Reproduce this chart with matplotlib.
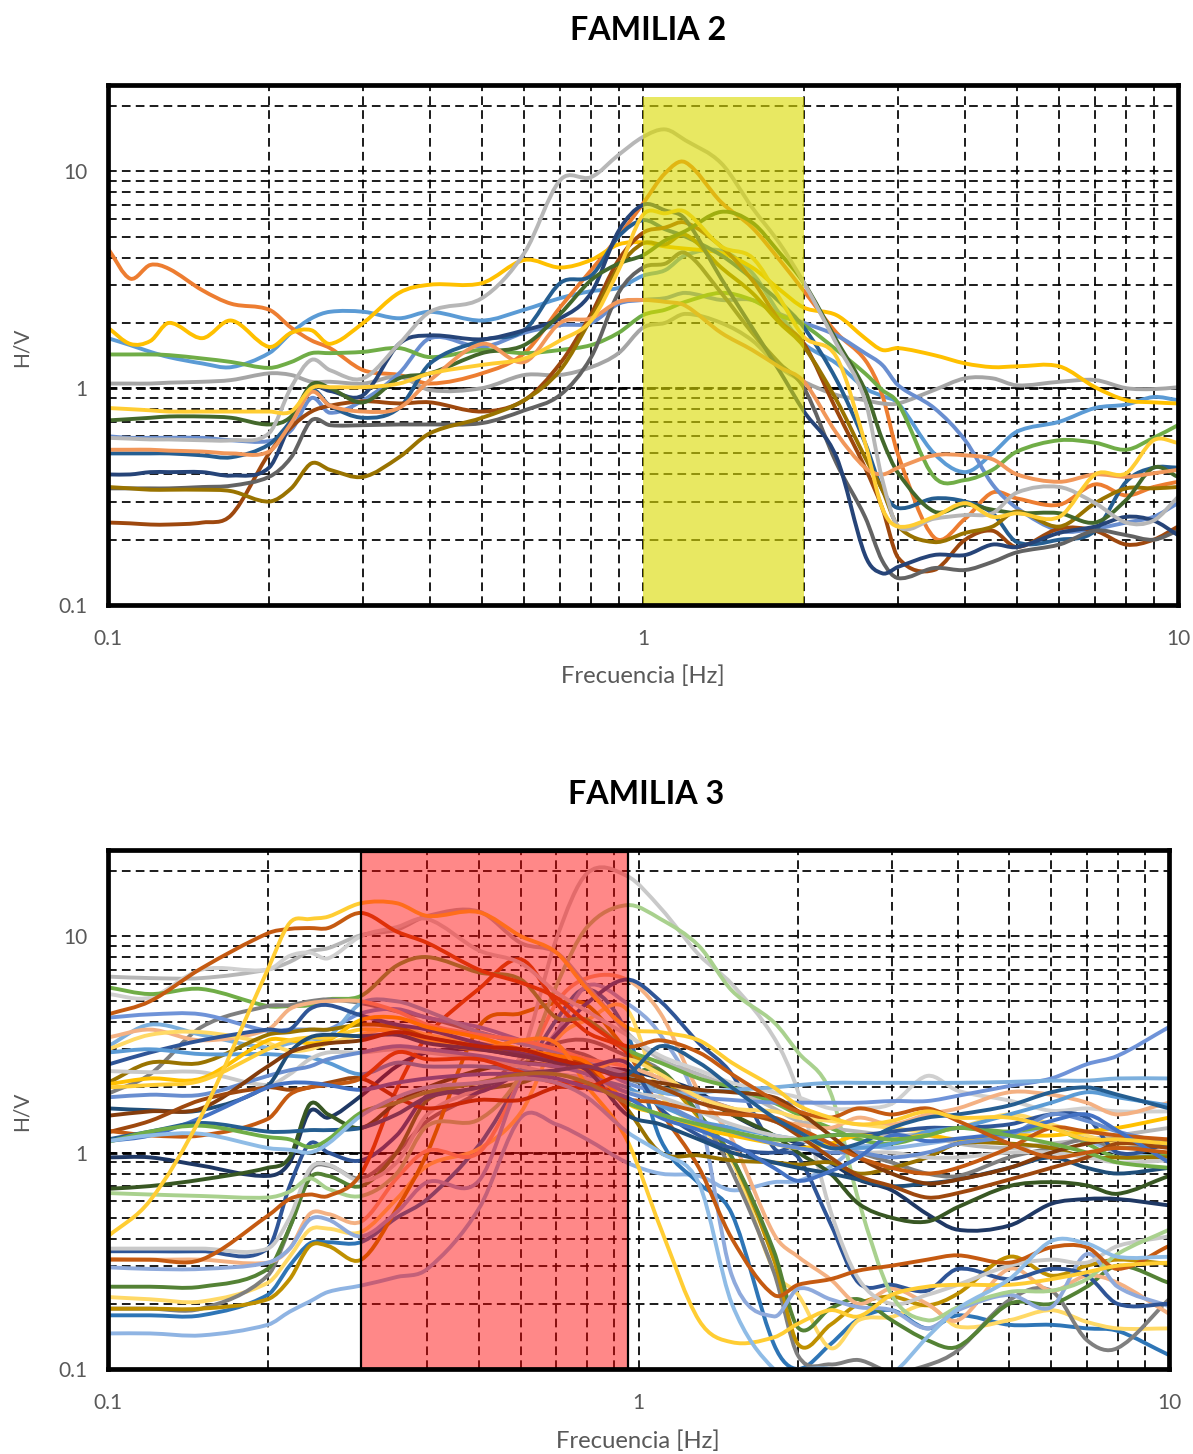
import matplotlib
matplotlib.use("Agg")
import numpy as np
import matplotlib.pyplot as plt
from matplotlib.patches import Rectangle, PathPatch
from matplotlib.path import Path
from matplotlib.ticker import FixedLocator, FixedFormatter, NullFormatter

plt.rcParams['font.family'] = ['Lato', 'DejaVu Sans']

x_ticks = [0.1, 1, 10]
x_tick_labels = ['0.1', '1', '10']
y_ticks = [0.1, 1, 10]
y_tick_labels = ['0.1', '1', '10']
minor_ticks = [0.2, 0.3, 0.4, 0.5, 0.6, 0.7, 0.8, 0.9, 2, 3, 4, 5, 6, 7, 8, 9, 20]

# ---- FAMILIA 2 ----
f2_freq = [0.1, 0.11, 0.12, 0.13, 0.15, 0.17, 0.2, 0.22, 0.24, 0.26, 0.3, 0.35, 0.4, 0.5, 0.6, 0.7, 0.8, 0.9, 1,
           1.1, 1.2, 1.4, 1.6, 1.8, 2, 2.3, 2.6, 2.8, 3, 3.5, 4, 4.5, 5, 6, 7, 8, 9, 10]
f2_blue = [1.7, 1.58, 1.47, 1.39, 1.3, 1.25, 1.45, 1.8, 2.1, 2.25, 2.25, 2.1, 2.25, 2.05, 2.3, 2.6, 2.8, 2.9, 3.3,
           3.5, 4.1, 4.3, 3.4, 2.2, 1.6, 1.3, 1.0, 0.92, 0.85, 0.5, 0.41, 0.5, 0.63, 0.7, 0.81, 0.84, 0.91, 0.88]
f2_orange = [4.4, 3.2, 3.7, 3.55, 2.83, 2.45, 2.3, 1.9, 1.66, 1.53, 1.21, 1.15, 1.05, 1.17, 1.45, 2.36, 3.5, 5, 7.1,
             9.8, 11, 7.2, 5.5, 3.9, 2.8, 1.8, 1.35, 0.93, 0.49, 0.205, 0.25, 0.33, 0.31, 0.29, 0.36, 0.32, 0.35, 0.37]
f2_gray = [1.05, 1.05, 1.05, 1.06, 1.07, 1.09, 1.17, 1.15, 1.07, 1.07, 1.05, 1.13, 0.98, 1.0, 1.15, 1.15, 1.25, 1.45, 1.9,
           2.0, 2.2, 2.0, 1.66, 1.25, 1.07, 0.93, 0.88, 0.85, 0.85, 0.98, 1.11, 1.11, 1.03, 1.07, 1.09, 1.0, 0.99, 1.01]
f2_gold = [1.9, 1.6, 1.65, 2.0, 1.7, 2.05, 1.55, 1.8, 1.85, 1.6, 2.0, 2.75, 3.0, 3.05, 3.9, 3.6, 3.9, 4.6, 4.7,
           4.5, 4.4, 4.2, 3.6, 2.85, 2.35, 2.17, 1.7, 1.5, 1.53, 1.42, 1.3, 1.25, 1.26, 1.26, 1.01, 0.88, 0.86, 0.85]
f2_periwinkle = [0.6, 0.59, 0.59, 0.59, 0.59, 0.575, 0.57, 0.64, 0.9, 0.77, 0.88, 1.17, 1.7, 1.55, 1.8, 1.95, 2.0, 2.45, 2.55,
                 2.6, 2.75, 2.55, 2.55, 2.2, 2.0, 1.75, 1.45, 1.28, 1.03, 0.81, 0.575, 0.36, 0.28, 0.22, 0.225, 0.24, 0.255, 0.295]
f2_green = [1.43, 1.43, 1.43, 1.42, 1.37, 1.32, 1.24, 1.32, 1.45, 1.45, 1.47, 1.53, 1.39, 1.5, 1.45, 1.5, 1.58, 1.8, 2.17,
            2.3, 2.5, 2.75, 2.55, 2.17, 1.95, 1.5, 1.17, 0.98, 0.85, 0.39, 0.377, 0.42, 0.51, 0.575, 0.56, 0.52, 0.59, 0.675]
f2_teal = [0.5, 0.5, 0.5, 0.5, 0.49, 0.48, 0.55, 0.71, 0.98, 0.83, 0.73, 0.81, 1.3, 1.66, 1.85, 3.05, 3.3, 5, 5.95,
           5.4, 5, 4.1, 3.2, 2.5, 1.9, 1.09, 0.56, 0.34, 0.28, 0.31, 0.3, 0.265, 0.195, 0.2, 0.22, 0.37, 0.43, 0.43]
f2_brown = [0.24, 0.238, 0.235, 0.235, 0.24, 0.26, 0.5, 0.66, 0.78, 0.83, 0.87, 0.85, 0.86, 0.78, 0.88, 1.3, 2.2, 3.9, 5.2,
            5.5, 5.8, 4.5, 3.15, 2.05, 1.6, 0.79, 0.43, 0.28, 0.165, 0.145, 0.2, 0.22, 0.185, 0.225, 0.22, 0.19, 0.2, 0.23]
f2_darkgray = [0.345, 0.345, 0.345, 0.345, 0.35, 0.355, 0.39, 0.48, 0.71, 0.675, 0.675, 0.68, 0.68, 0.69, 0.79, 0.93, 1.39, 2.75, 3.6,
               3.75, 4.2, 2.75, 1.8, 1.3, 1.0, 0.45, 0.255, 0.16, 0.133, 0.148, 0.145, 0.158, 0.175, 0.19, 0.22, 0.21, 0.2, 0.22]
f2_olive = [0.35, 0.345, 0.34, 0.34, 0.34, 0.335, 0.3, 0.345, 0.45, 0.42, 0.39, 0.48, 0.62, 0.73, 0.88, 1.21, 2.1, 3.6, 4.65,
            4.6, 5.1, 3.6, 2.75, 2.0, 1.55, 0.88, 0.48, 0.34, 0.23, 0.195, 0.215, 0.23, 0.27, 0.23, 0.295, 0.345, 0.345, 0.35]
f2_navy = [0.4, 0.4, 0.41, 0.41, 0.41, 0.395, 0.43, 0.7, 1.0, 0.97, 0.93, 1.6, 1.75, 1.68, 1.85, 2.1, 2.75, 5.3, 7.0,
           6.6, 6.0, 3.2, 1.9, 1.2, 0.78, 0.48, 0.17, 0.14, 0.15, 0.17, 0.17, 0.19, 0.185, 0.215, 0.23, 0.255, 0.245, 0.21]
f2_darkgreen = [0.71, 0.72, 0.73, 0.74, 0.74, 0.73, 0.68, 0.74, 1.04, 1.0, 0.86, 1.11, 1.17, 1.45, 1.58, 2.2, 3.15, 3.75, 4.1,
                4.8, 5.3, 6.5, 5.8, 4.2, 3.05, 1.66, 0.98, 0.58, 0.405, 0.27, 0.29, 0.275, 0.265, 0.265, 0.24, 0.305, 0.43, 0.39]
f2_salmon = [0.52, 0.52, 0.52, 0.515, 0.51, 0.5, 0.51, 0.69, 0.96, 0.83, 0.78, 0.81, 1.09, 1.6, 1.32, 2.0, 2.1, 2.5, 2.55,
             2.5, 2.4, 1.8, 1.5, 1.25, 1.07, 0.62, 0.43, 0.4, 0.43, 0.49, 0.49, 0.47, 0.4, 0.37, 0.4, 0.39, 0.405, 0.42]
f2_silver = [0.59, 0.585, 0.58, 0.58, 0.575, 0.575, 0.62, 1.01, 1.35, 1.21, 1.11, 1.6, 2.25, 2.6, 4.2, 9.1, 9.4, 11.9, 14.4,
             15.6, 13.9, 10.9, 6.8, 4.65, 3.05, 1.6, 0.88, 0.38, 0.23, 0.25, 0.26, 0.265, 0.33, 0.35, 0.295, 0.24, 0.245, 0.315]
f2_yellow = [0.81, 0.8, 0.79, 0.78, 0.78, 0.78, 0.78, 0.78, 1.0, 1.01, 1.01, 1.05, 1.17, 1.28, 1.37, 1.66, 2.05, 3.5, 6.3,
             6.4, 6.5, 4.5, 4.0, 2.6, 1.72, 1.39, 0.56, 0.28, 0.23, 0.255, 0.295, 0.255, 0.265, 0.255, 0.4, 0.405, 0.575, 0.56]

f2_curves = [f2_blue, f2_orange, f2_gray, f2_gold, f2_periwinkle, f2_green, f2_teal, f2_brown, f2_darkgray,
             f2_olive, f2_navy, f2_darkgreen, f2_salmon, f2_silver, f2_yellow]
f2_colors = ['#5B9BD5', '#ED7D31', '#A5A5A5', '#FFC000', '#698ED0', '#70AD47', '#255E91', '#9E480E', '#636363',
             '#997300', '#264478', '#43682B', '#F1975A', '#B7B7B7', '#FFCD33']
f2_band = [1, 2]
f2_band_top = 22

# ---- FAMILIA 3 ----
f3_freq = [0.1, 0.12, 0.15, 0.2, 0.22, 0.24, 0.26, 0.3,
           0.35, 0.4, 0.5, 0.6, 0.7, 0.8, 0.95,
           1.1, 1.3, 1.5, 1.8, 2, 2.3, 2.6, 3, 3.5, 4, 5, 6, 7, 8, 10]
f3_01 = [.146, .146, .143, .16, .184, .205, .227, .243, .266, .29, .55, 1.45, 1.35, 1.15, .9, .8, .78, .67, .73, .74, .86, 1.06, 1.05, 1.1, 1.15, 1.2, 1.3, 1.15, 1.0, .95]
f3_02 = [.177, .177, .177, .22, .3, .38, .385, .386, .5, .61, 1.08, 2.2, 4.1, 5.7, 3.6, 1.15, .72, .52, .13, .1, .13, .17, .187, .154, .177, .16, .16, .154, .15, .116]
f3_03 = [.215, .21, .205, .25, .33, .44, .445, .43, .61, .87, 1.04, 1.53, 3.3, 4.1, 4.6, 1.86, 1.3, .92, .285, .22, .125, .168, .174, .197, .157, .168, .187, .165, .154, .154]
f3_04 = [.19, .19, .19, .27, .45, .82, .87, .76, 1.0, 1.4, 1.9, 2.7, 3.2, 3.3, 2.8, 2.4, 1.5, .82, .28, .115, .105, .11, .097, .104, .122, .208, .23, .136, .125, .21]
f3_05 = [.19, .19, .19, .21, .26, .37, .37, .32, .55, 1.0, 3.8, 4.4, 4.9, 4.8, 3.0, 2.3, 1.45, .95, .32, .13, .16, .2, .216, .197, .223, .33, .27, .3, .32, .306]
f3_06 = [.24, .24, .24, .29, .45, .76, .78, .7, 1.0, 1.75, 1.95, 2.1, 2.4, 2.5, 2.3, 2.4, 1.5, .95, .35, .155, .19, .21, .168, .136, .127, .2, .2, .24, .3, .25]
f3_07 = [.323, .32, .32, .31, .36, .52, .52, .48, .76, 1.02, 1.0, 2.2, 4.9, 6.4, 6.3, 4.4, 1.9, 1.15, .42, .33, .26, .2, .235, .2, .168, .29, .23, .27, .25, .18]
f3_08 = [.295, .29, .29, .31, .36, .49, .49, .41, .53, .73, .74, 2.2, 3.6, 5.9, 4.9, 3.5, 1.56, .27, .175, .235, .21, .193, .187, .154, .187, .22, .193, .34, .24, .195]
f3_09 = [.35, .35, .35, .36, .7, 1.1, 1.0, .92, 1.2, 1.83, 1.9, 2.4, 3.5, 4.9, 6.3, 5.0, 3.2, 2.3, 1.05, .95, .47, .25, .245, .23, .29, .26, .29, .27, .2, .2]
f3_10 = [.36, .36, .36, .36, .5, .84, .88, .74, .9, 1.5, 2.0, 2.8, 9.7, 19.5, 19, 13.5, 8.2, 6, 3.4, 1.9, .54, .26, .2, .22, .245, .3, .32, .31, .37, .41]
f3_11 = [.65, .64, .63, .62, .66, .76, .68, .63, .8, 1.33, 1.42, 2.3, 5.9, 11, 13.9, 12, 9, 5.6, 4, 2.9, 1.9, .6, .22, .168, .193, .227, .23, .26, .34, .44]
f3_12 = [.32, .32, .32, .51, .61, .64, .63, .8, 1.96, 3.46, 5.7, 7.8, 4.9, 3.6, 2.9, 1.56, .85, .4, .22, .245, .26, .285, .3, .32, .335, .31, .365, .365, .29, .37]
f3_13 = [.95, .95, .87, .78, .9, 1.55, 1.45, 1.83, 2.5, 2.9, 3, 2.8, 2.8, 2.5, 2.4, 2.2, 1.9, 1.5, 1.2, 1.1, .9, .75, .67, .52, .44, .46, .58, .61, .61, .57]
f3_14 = [.68, .7, .75, .85, .95, 1.67, 1.5, 1.3, 1.7, 2, 2.4, 2.6, 2.5, 2.4, 2.3, 2, 1.8, 1.5, 1.2, 1, .8, .58, .5, .48, .56, .7, .73, .705, .645, .78]
f3_15 = [6.5, 6.4, 6.4, 7.0, 7.6, 8.5, 8.8, 10.1, 10.7, 12.4, 13, 9.3, 8.4, 5.9, 3.6, 2.7, 2.3, 2, 1.6, 1.4, 1.3, 1.25, 1.2, 1.2, 1.1, 1.05, 1.1, 1.15, 1.2, 1.3]
f3_16 = [5.4, 5.2, 7, 7, 8.1, 8.4, 7.9, 10, 11, 12, 8.6, 7.5, 5.5, 4.5, 3.5, 2.8, 2.4, 2.1, 1.9, 1.8, 1.6, 1.6, 1.68, 2.26, 1.93, 1.74, 1.56, 1.6, 1.55, 1.55]
f3_17 = [5.8, 5.4, 5.7, 4.75, 4.75, 4.8, 5.1, 5.3, 7.3, 8.0, 6.8, 6.3, 4.2, 4.1, 3, 2.6, 2.2, 2, 1.7, 1.5, 1.3, 1.15, 1.1, 1.2, 1.3, 1.25, 1.3, 1.1, .95, .98]
f3_18 = [1.87, 2.3, 3.8, 4.75, 4.8, 5, 5.1, 4.9, 4.5, 4.2, 3.6, 3.2, 3.0, 2.8, 2.2, 2, 1.8, 1.6, 1.4, 1.25, 1.1, 1, .9, .8, .78, .95, 1.05, 1.15, 1.05, 1.1]
f3_19 = [4.2, 4.35, 4.35, 3.65, 3.7, 3.7, 3.7, 4.4, 4.6, 4.2, 3.8, 3.3, 2.9, 2.6, 2.1, 1.9, 1.8, 1.75, 1.7, 1.7, 1.7, 1.7, 1.73, 1.73, 1.83, 2.03, 2.2, 2.56, 2.8, 3.8]
f3_20 = [3.1, 3.9, 3.5, 3.05, 3.2, 3.35, 3.4, 4.9, 5, 4.5, 3.6, 3.2, 2.9, 2.6, 2.3, 1.9, 1.9, 1.95, 2.0, 2.05, 2.1, 2.1, 2.1, 2.1, 2.1, 2.12, 2.15, 2.15, 2.2, 2.2]
f3_21 = [3.4, 3.7, 3.3, 3.7, 4.6, 4.9, 5, 5, 4.5, 3.9, 3.5, 3.3, 3, 2.7, 2.5, 2.2, 1.8, 1.6, 1.4, 1.35, 1.3, 1.45, 1.35, 1.5, 1.6, 1.9, 1.85, 1.7, 1.5, 1.7]
f3_22 = [3.0, 3.5, 3.6, 3.2, 2.95, 3, 3.2, 3.5, 3.8, 3.5, 3.2, 3, 2.7, 2.4, 2.7, 2.3, 1.8, 1.6, 1.55, 1.45, 1.4, 1.35, 1.3, 1.25, 1.3, 1.5, 1.35, 1.2, 1.1, 1.15]
f3_23 = [2.1, 2.6, 2.6, 3.5, 3.6, 3.7, 3.7, 3.9, 3.8, 3.4, 3.1, 2.9, 2.8, 2.5, 1.6, 1.0, .97, .92, .9, .88, .9, .8, .85, .95, 1.1, 1.1, 1.05, .95, .95, .95]
f3_24 = [2.55, 2.9, 3.3, 3.7, 3.7, 4.6, 4.8, 4.3, 3.9, 3.7, 3.2, 2.9, 2.7, 2.5, 2.6, 1.6, 1.2, 1.05, 1, 1.1, 1.2, 1.2, 1.25, 1.3, 1.3, 1.35, 1.5, 1.45, 1.0, 1.1]
f3_25 = [2.9, 3, 2.85, 2.85, 2.8, 2.75, 2.6, 2.3, 2.6, 2.5, 2.5, 2.4, 2.3, 2.2, 2.0, 1.65, 1.4, 1.3, 1.2, 1.15, 1.1, 1.05, 1.1, 1.25, 1.3, 1.5, 1.7, 1.9, 1.8, 1.65]
f3_26 = [2.38, 2.35, 2.35, 2.05, 2.3, 2.7, 2.9, 2.9, 3, 2.9, 2.7, 2.5, 2.3, 2.2, 1.9, 1.8, 1.55, 1.35, 1.2, 1.15, 1.05, 1, 1, .95, .95, 1.0, 1.0, .95, .9, .92]
f3_27 = [2.07, 2.2, 2.2, 3.3, 3.3, 3.2, 3.3, 4.1, 4.2, 3.8, 3.4, 3, 2.8, 2.6, 1.7, 1.5, 1.3, 1.2, 1.1, 1.05, 1.1, 1.2, 1.15, 1.2, 1.15, 1.2, 1.2, 1.25, 1.3, 1.45]
f3_28 = [2.0, 2.05, 2.15, 3, 3.3, 3.4, 3.4, 3.7, 3.6, 3.3, 3, 3.3, 3.2, 2.03, 1.15, .45, .168, .133, .14, .162, .187, .175, .22, .24, .245, .245, .26, .28, .3, .31]
f3_29 = [1.8, 1.85, 1.85, 2.26, 2.4, 2.5, 2.7, 2.9, 3.1, 3, 2.8, 2.6, 2.5, 2.3, 1.9, 1.7, 1.4, 1.25, 1.1, 1.05, 1, 1, .95, 1, 1.1, 1.2, 1.5, 1.4, 1.25, 1.1]
f3_30 = [1.6, 1.57, 1.57, 2.04, 2.9, 3.4, 3.5, 3.45, 3.5, 3.2, 3, 2.8, 2.6, 2.4, 1.5, 1.35, 1.15, 1, .9, .85, .8, .75, .7, .72, .75, .85, .95, .85, .8, .85]
f3_31 = [1.48, 1.55, 1.6, 2.5, 2.9, 3.1, 3.2, 3.3, 3.6, 3.4, 3.1, 3, 2.7, 2.5, 2.2, 2.1, 1.95, 1.9, 1.8, 1.55, 1.2, .95, .8, .72, .75, .85, 1.0, 1.1, 1.15, 1.1]
f3_32 = [1.24, 1.4, 1.75, 2.0, 1.95, 2.0, 2.1, 2.2, 1.8, 1.6, 1.75, 1.75, 2.0, 2.0, 2.3, 2, 1.7, 1.55, 1.4, 1.2, .95, .78, .7, .62, .65, .75, .85, .95, 1.1, 1.05]
f3_33 = [1.26, 1.2, 1.2, 1.43, 1.85, 2, 2.05, 2.2, 2.9, 2.7, 2.7, 2.35, 2.1, 2.1, 1.77, 1.7, 1.55, 1.5, 1.45, 1.3, 1.1, .95, .85, .8, .85, 1.05, 1.3, 1.25, 1.2, 1.15]
f3_34 = [1.13, 1.2, 1.45, 2.0, 2.1, 2.1, 2.05, 1.95, 2.1, 2.2, 2.3, 2.3, 2.2, 2, 1.8, 1.45, 1.27, 1.1, .85, .74, .82, .95, 1.2, 1.13, 1.16, 1.24, 1.4, 1.5, 1.26, .9]
f3_35 = [1.15, 1.25, 1.37, 1.25, 1.25, 1.27, 1.27, 1.3, 1.5, 1.8, 2, 2.3, 2.4, 2.5, 2.3, 3.1, 2.6, 2.0, 1.45, 1.25, 1.05, 1.1, 1.3, 1.45, 1.5, 1.65, 1.9, 2.0, 1.85, 1.6]
f3_36 = [1.12, 1.25, 1.33, 1.18, 1.15, 1.06, 1.15, 1.53, 1.7, 1.9, 2.1, 2.3, 2.3, 2.1, 1.7, 1.5, 1.35, 1.25, 1.15, 1.15, 1.2, 1.2, 1.15, 1.2, 1.3, 1.2, 1.1, 1.0, .9, .85]
f3_37 = [1.13, 1.2, 1.22, 1.05, 1.03, 1.0, 1.1, 1.48, 1.8, 2, 2.1, 2.2, 2.1, 1.8, 1.25, 1.0, .72, .2, .1, .1, .1, .09, .095, .14, .19, .26, .39, .38, .33, .33]
f3_38 = [4.35, 5.0, 7.1, 10.3, 10.8, 10.9, 10.9, 12.8, 10.5, 9.3, 7, 6.1, 5.2, 4, 3.1, 3.3, 2.9, 2.3, 1.75, 1.55, 1.45, 1.6, 1.5, 1.6, 1.4, 1.1, .95, 1, 1.05, 1.0]
f3_39 = [.41, .6, 1.48, 7, 11.5, 12, 12.3, 14.2, 14.2, 12.4, 12.9, 10, 8.4, 5.7, 3.8, 3.6, 3.3, 2.6, 2.0, 1.65, 1.45, 1.35, 1.4, 1.55, 1.45, 1.45, 1.3, 1.15, 1.15, 1.1]

f3_curves = [f3_01, f3_02, f3_03, f3_04, f3_05, f3_06, f3_07, f3_08, f3_09, f3_10, f3_11, f3_12, f3_13,
             f3_14, f3_15, f3_16, f3_17, f3_18, f3_19, f3_20, f3_21, f3_22, f3_23, f3_24, f3_25, f3_26,
             f3_27, f3_28, f3_29, f3_30, f3_31, f3_32, f3_33, f3_34, f3_35, f3_36, f3_37, f3_38, f3_39]
f3_colors = ['#8FB4E3', '#2E75B6', '#FFD966', '#7F7F7F', '#BF9000', '#548235', '#F4B183', '#8FAADC', '#2F5597',
             '#C9C9C9', '#A9D18E', '#C55A11', '#1F3864', '#385723', '#B7B7B7', '#D0D0D0', '#70AD47', '#7F7F7F',
             '#6F93D8', '#7CAFDD', '#F4B183', '#FFD966', '#997300', '#2F5597', '#5B9BD5', '#C9C9C9', '#FFC000',
             '#FFCD33', '#698ED0', '#1F4E79', '#843C0C', '#9E480E', '#C55A11', '#4472C4', '#255E91', '#70AD47',
             '#8FBCE6', '#C55A11', '#FFCD33']
f3_band = [0.3, 0.957]
f3_band_top = 24.6


def smooth_line(ax, freq, vals, color):
    # Excel style "smoothed line": bezier through the read points, in log-log space
    lx = np.log10(freq)
    ly = np.log10(vals)
    verts = [(freq[0], vals[0])]
    codes = [Path.MOVETO]
    n = len(lx)
    for i in range(n - 1):
        i0 = max(i - 1, 0)
        i3 = min(i + 2, n - 1)
        h = lx[i + 1] - lx[i]
        # tangents, limited so the curve does not swing past flat stretches
        m1 = (ly[i + 1] - ly[i0]) / (lx[i + 1] - lx[i0])
        m2 = (ly[i3] - ly[i]) / (lx[i3] - lx[i])
        c1 = (lx[i] + h / 3, ly[i] + m1 * h / 3)
        c2 = (lx[i + 1] - h / 3, ly[i + 1] - m2 * h / 3)
        verts.append((10 ** c1[0], 10 ** c1[1]))
        verts.append((10 ** c2[0], 10 ** c2[1]))
        verts.append((freq[i + 1], vals[i + 1]))
        codes += [Path.CURVE4, Path.CURVE4, Path.CURVE4]
    ax.add_patch(PathPatch(Path(verts, codes), fill=False, edgecolor=color, linewidth=2.8,
                           capstyle='round', joinstyle='round', zorder=3))


def setup_axes(ax, title, title_xy, label_xy, hv_y):
    ax.set_xscale('log')
    ax.set_yscale('log')
    ax.set_xlim(0.1, 10)
    ax.set_ylim(0.1, 25)
    ax.xaxis.set_major_locator(FixedLocator(x_ticks))
    ax.xaxis.set_major_formatter(FixedFormatter(x_tick_labels))
    ax.yaxis.set_major_locator(FixedLocator(y_ticks))
    ax.yaxis.set_major_formatter(FixedFormatter(y_tick_labels))
    ax.xaxis.set_minor_locator(FixedLocator([t for t in minor_ticks if t < 10]))
    ax.yaxis.set_minor_locator(FixedLocator(minor_ticks))
    ax.xaxis.set_minor_formatter(NullFormatter())
    ax.yaxis.set_minor_formatter(NullFormatter())
    ax.grid(True, which='both', color='black', linewidth=1.25, linestyle=(0, (5, 3)))
    ax.set_axisbelow(True)
    ax.axhline(1, color='black', linewidth=2.0, linestyle=(0, (3.2, 1.9)), zorder=1)
    ax.tick_params(which='both', length=0)
    ax.tick_params(axis='x', pad=17, labelsize=15, labelcolor='#595959')
    ax.tick_params(axis='y', pad=15, labelsize=15, labelcolor='#595959')
    for s in ax.spines.values():
        s.set_linewidth(3.4)
        s.set_zorder(10)
    fig.text(title_xy[0] / 1193, 1 - title_xy[1] / 1454, title, ha='center', va='center',
             fontsize=23.2, fontweight='bold', color='black')
    fig.text(label_xy[0] / 1193, 1 - label_xy[1] / 1454, 'Frecuencia [Hz]', ha='center', va='center',
             fontsize=17.2, color='#595959')
    fig.text(22 / 1193, 1 - hv_y / 1454, 'H/V', rotation=90, ha='center', va='center',
             fontsize=15, color='#595959')


fig = plt.figure(figsize=(11.93, 14.54), dpi=100)
ax1 = fig.add_axes([108 / 1193, 1 - 605 / 1454, 1070 / 1193, 520 / 1454])
ax2 = fig.add_axes([108 / 1193, 1 - 1369 / 1454, 1061 / 1193, 519 / 1454])

setup_axes(ax1, 'FAMILIA 2', (648, 30), (643, 676), 347)
setup_axes(ax2, 'FAMILIA 3', (646, 795), (638, 1441), 1111)

for vals, col in zip(f2_curves, f2_colors):
    smooth_line(ax1, f2_freq, vals, col)
for vals, col in zip(f3_curves, f3_colors):
    smooth_line(ax2, f3_freq, vals, col)

# shaded bands go over the curves
ax1.add_patch(Rectangle((f2_band[0], 0.1), f2_band[1] - f2_band[0], f2_band_top - 0.1,
                        facecolor=(218 / 255, 218 / 255, 0, 0.615), edgecolor='none', zorder=5))
ax2.add_patch(Rectangle((f3_band[0], 0.1), f3_band[1] - f3_band[0], f3_band_top - 0.1,
                        facecolor=(1, 0, 0, 0.467), edgecolor='black', linewidth=1.6, zorder=5))

fig.savefig('out.png', dpi=100)
